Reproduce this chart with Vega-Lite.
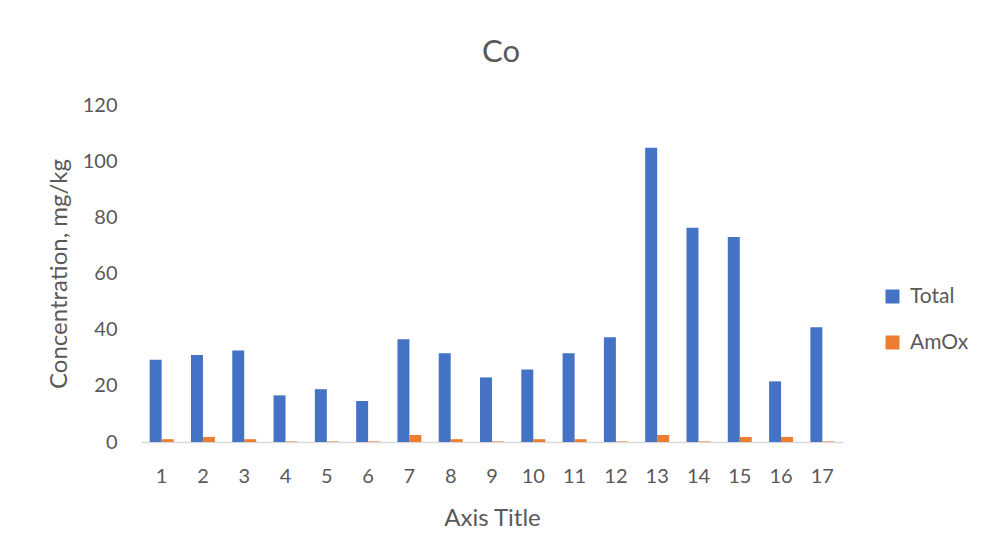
{
  "$schema": "https://vega.github.io/schema/vega-lite/v6.json",
  "autosize": {"type": "none"},
  "width": 702,
  "height": 337,
  "padding": {"left": 141, "top": 105, "right": 139, "bottom": 114},
  "background": "white",
  "title": {
    "text": "Co",
    "fontSize": 31,
    "font": "Lato",
    "fontWeight": "normal",
    "color": "#595959",
    "baseline": "alphabetic",
    "offset": 2,
    "dx": 9
  },
  "data": {
    "values": [
      {"site": "1", "series": "Total", "value": 29.3},
      {"site": "1", "series": "AmOx", "value": 1.0},
      {"site": "2", "series": "Total", "value": 31.0},
      {"site": "2", "series": "AmOx", "value": 1.8},
      {"site": "3", "series": "Total", "value": 32.6},
      {"site": "3", "series": "AmOx", "value": 1.0},
      {"site": "4", "series": "Total", "value": 16.6},
      {"site": "4", "series": "AmOx", "value": 0.2},
      {"site": "5", "series": "Total", "value": 18.8},
      {"site": "5", "series": "AmOx", "value": 0.2},
      {"site": "6", "series": "Total", "value": 14.6},
      {"site": "6", "series": "AmOx", "value": 0.2},
      {"site": "7", "series": "Total", "value": 36.6},
      {"site": "7", "series": "AmOx", "value": 2.5},
      {"site": "8", "series": "Total", "value": 31.6},
      {"site": "8", "series": "AmOx", "value": 1.0},
      {"site": "9", "series": "Total", "value": 23.0},
      {"site": "9", "series": "AmOx", "value": 0.2},
      {"site": "10", "series": "Total", "value": 25.8},
      {"site": "10", "series": "AmOx", "value": 1.0},
      {"site": "11", "series": "Total", "value": 31.6},
      {"site": "11", "series": "AmOx", "value": 1.0},
      {"site": "12", "series": "Total", "value": 37.3},
      {"site": "12", "series": "AmOx", "value": 0.2},
      {"site": "13", "series": "Total", "value": 104.8},
      {"site": "13", "series": "AmOx", "value": 2.5},
      {"site": "14", "series": "Total", "value": 76.3},
      {"site": "14", "series": "AmOx", "value": 0.2},
      {"site": "15", "series": "Total", "value": 73.0},
      {"site": "15", "series": "AmOx", "value": 1.8},
      {"site": "16", "series": "Total", "value": 21.6},
      {"site": "16", "series": "AmOx", "value": 1.8},
      {"site": "17", "series": "Total", "value": 40.9},
      {"site": "17", "series": "AmOx", "value": 0.2}
    ]
  },
  "mark": {"type": "bar"},
  "encoding": {
    "x": {
      "field": "site",
      "type": "ordinal",
      "sort": null,
      "scale": {"paddingInner": 0.42, "paddingOuter": 0.21},
      "axis": {
        "title": "Axis Title",
        "labelAngle": 0,
        "ticks": false,
        "domainColor": "#D9D9D9",
        "domainWidth": 1.5,
        "labelPadding": 24,
        "titlePadding": 20
      }
    },
    "xOffset": {
      "field": "series",
      "type": "nominal",
      "sort": ["Total", "AmOx"],
      "scale": {"paddingInner": 0, "paddingOuter": 0}
    },
    "y": {
      "field": "value",
      "type": "quantitative",
      "scale": {"domain": [0, 120], "nice": false},
      "axis": {
        "title": "Concentration, mg/kg",
        "values": [0, 20, 40, 60, 80, 100, 120],
        "grid": false,
        "ticks": false,
        "domain": false,
        "labelPadding": 24,
        "titlePadding": 11
      }
    },
    "color": {
      "field": "series",
      "type": "nominal",
      "scale": {"domain": ["Total", "AmOx"], "range": ["#4472C4", "#ED7D31"]},
      "legend": {
        "title": null,
        "orient": "none",
        "legendX": 741,
        "legendY": 181,
        "symbolType": "square",
        "symbolSize": 196,
        "symbolStrokeWidth": 0,
        "symbolOpacity": 1,
        "labelFontSize": 21,
        "labelFont": "Lato",
        "labelColor": "#595959",
        "labelOffset": 7,
        "rowPadding": 24
      }
    }
  },
  "config": {
    "view": {"stroke": null},
    "axis": {
      "labelFont": "Lato",
      "labelFontSize": 20,
      "labelColor": "#595959",
      "titleFont": "Lato",
      "titleFontSize": 24,
      "titleFontWeight": "normal",
      "titleColor": "#595959"
    }
  }
}
